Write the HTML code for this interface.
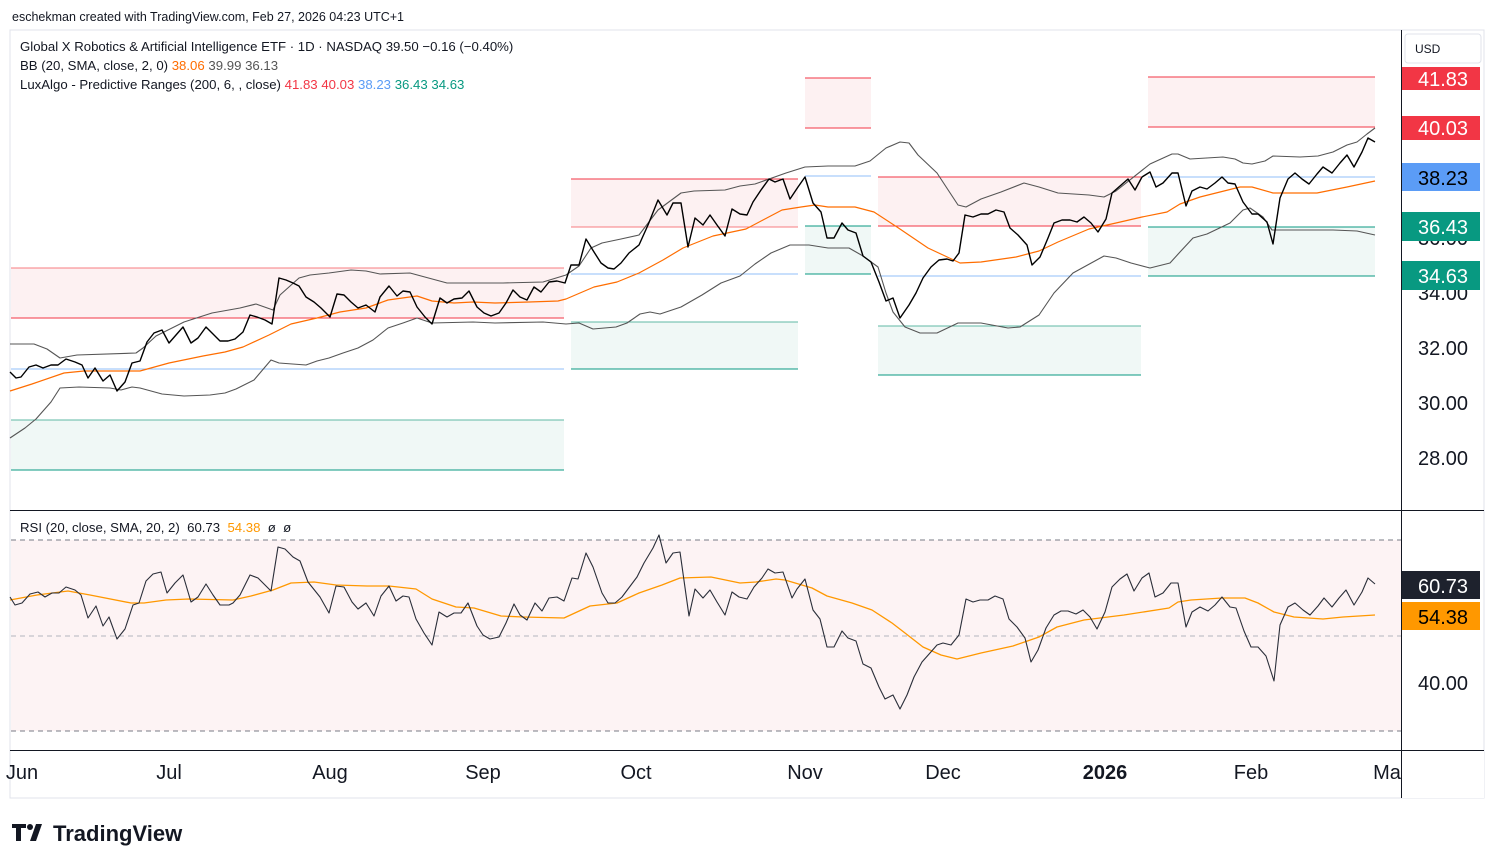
<!DOCTYPE html>
<html><head><meta charset="utf-8"><style>
body{margin:0;width:1495px;height:865px;background:#fff;overflow:hidden;font-family:"Liberation Sans","DejaVu Sans",sans-serif}
svg{position:absolute;left:0;top:0}
</style></head><body>
<svg width="1495" height="865" viewBox="0 0 1495 865">
<rect x="10" y="30" width="1474" height="768" fill="#fff" stroke="#e0e3eb"/>
<text x="12" y="21" font-size="12.5" fill="#131722">eschekman created with TradingView.com, Feb 27, 2026 04:23 UTC+1</text>
<!-- ranges -->
<g>
<rect x="11" y="268" width="553" height="50" fill="#fdf1f2"/><rect x="11" y="420" width="553" height="50" fill="#f0f8f6"/>
<line x1="11" x2="564" y1="268" y2="268" stroke="#f77c80"/><line x1="11" x2="564" y1="318" y2="318" stroke="#f23645"/>
<line x1="11" x2="564" y1="369" y2="369" stroke="#90bff9"/><line x1="11" x2="564" y1="420" y2="420" stroke="#5fb8a4"/><line x1="11" x2="564" y1="470" y2="470" stroke="#089981"/>
<rect x="571" y="179" width="227" height="48" fill="#fdf1f2"/><rect x="571" y="322" width="227" height="47" fill="#f0f8f6"/>
<line x1="571" x2="798" y1="179" y2="179" stroke="#f23645"/><line x1="571" x2="798" y1="227" y2="227" stroke="#f77c80"/>
<line x1="571" x2="798" y1="274" y2="274" stroke="#90bff9"/><line x1="571" x2="798" y1="322" y2="322" stroke="#5fb8a4"/><line x1="571" x2="798" y1="369" y2="369" stroke="#089981"/>
<rect x="805" y="78" width="66" height="50" fill="#fdf1f2"/><rect x="805" y="226" width="66" height="48" fill="#f0f8f6"/>
<line x1="805" x2="871" y1="78" y2="78" stroke="#f23645"/><line x1="805" x2="871" y1="128" y2="128" stroke="#f23645"/>
<line x1="805" x2="871" y1="176" y2="176" stroke="#90bff9"/><line x1="805" x2="871" y1="226" y2="226" stroke="#089981"/><line x1="805" x2="871" y1="274" y2="274" stroke="#089981"/>
<rect x="878" y="177" width="263" height="49" fill="#fdf1f2"/><rect x="878" y="326" width="263" height="49" fill="#f0f8f6"/>
<line x1="878" x2="1141" y1="177" y2="177" stroke="#f23645"/><line x1="878" x2="1141" y1="226" y2="226" stroke="#f23645"/>
<line x1="878" x2="1141" y1="276" y2="276" stroke="#90bff9"/><line x1="878" x2="1141" y1="326" y2="326" stroke="#5fb8a4"/><line x1="878" x2="1141" y1="375" y2="375" stroke="#089981"/>
<rect x="1148" y="77" width="227" height="50" fill="#fdf1f2"/><rect x="1148" y="227" width="227" height="49" fill="#f0f8f6"/>
<line x1="1148" x2="1375" y1="77" y2="77" stroke="#f23645"/><line x1="1148" x2="1375" y1="127" y2="127" stroke="#f23645"/>
<line x1="1148" x2="1375" y1="177" y2="177" stroke="#90bff9"/><line x1="1148" x2="1375" y1="227" y2="227" stroke="#089981"/><line x1="1148" x2="1375" y1="276" y2="276" stroke="#089981"/>
</g>
<!-- BB -->
<g fill="none" stroke-linejoin="round">
<polyline stroke="#555" stroke-width="1.1" points="10,344 34,344 47,349 60,358 77,355 136,353 143,348 156,336 184,322 212,313 240,308 256,304 273,310 280,295 299,278 310,275 329,273 351,270 366,271 380,274 410,273 447,283 503,283 543,282 566,275 579,266 591,248 602,243 621,239 639,235 658,210 681,193 694,191 725,190 740,186 755,184 786,173 805,167 828,166 855,166 870,161 886,148 900,142 909,143 918,155 937,173 958,205 966,207 981,199 1001,192 1024,183 1039,187 1058,193 1089,195 1104,197 1116,191 1150,164 1172,154 1178,154 1190,159 1223,157 1235,159 1243,163 1252,164 1265,161 1273,156 1300,157 1318,156 1333,152 1347,145 1357,142 1367,134 1375,128"/>
<polyline stroke="#555" stroke-width="1.1" points="10,438 25,428 36,419 51,402 60,388 79,387 110,388 121,390 132,387 140,388 162,394 184,396 210,395 225,393 236,389 254,380 271,360 279,363 306,365 317,361 329,358 343,353 358,348 373,340 388,328 403,323 417,318 432,323 473,322 495,323 543,322 566,324 579,323 593,329 616,327 627,323 640,314 650,312 660,314 681,307 702,295 721,283 740,276 755,264 771,253 790,245 809,245 828,248 849,248 863,256 878,267 886,293 893,312 905,327 920,333 937,333 958,323 981,323 1008,328 1020,327 1039,315 1054,293 1073,273 1104,256 1116,258 1131,263 1150,268 1170,263 1180,252 1193,238 1207,234 1230,223 1243,210 1250,208 1263,217 1272,230 1333,230 1357,231 1375,235"/>
<polyline stroke="#ff6d00" stroke-width="1.2" points="10,391 32,384 64,373 84,371 140,371 169,363 203,356 225,352 243,347 269,335 291,324 317,318 340,312 366,308 388,300 417,296 432,301 454,303 473,302 495,303 529,302 558,301 566,299 580,293 594,287 617,282 639,273 663,260 683,248 713,236 746,229 763,220 782,210 801,207 815,205 828,207 855,207 874,212 897,227 928,248 943,255 960,263 981,262 1016,257 1039,251 1058,242 1089,229 1116,223 1142,217 1167,212 1180,204 1200,197 1240,187 1252,187 1273,193 1317,193 1347,187 1375,181"/>
<polyline stroke="#000" stroke-width="1.4" points="10,372 16,378 21,377 29,367 36,365 43,368 51,365 58,365 66,359 75,362 82,365 88,378 95,368 103,381 110,375 117,391 125,382 132,363 140,361 147,342 154,333 162,330 169,343 176,335 183,327 191,343 198,338 206,327 213,334 220,341 228,341 235,339 243,332 250,315 257,317 265,320 272,324 279,278 286,280 293,283 299,286 306,297 314,302 321,308 330,317 337,294 344,295 351,302 358,308 366,305 375,312 380,297 389,286 397,296 403,291 410,292 417,307 425,317 432,324 440,298 447,303 454,299 462,298 469,291 477,307 484,313 491,316 499,313 506,303 513,290 520,297 527,300 534,287 541,292 549,282 557,281 565,283 571,265 579,265 586,239 594,252 601,263 608,268 614,269 621,263 629,253 639,245 648,225 658,200 667,215 673,203 681,203 688,247 695,218 703,225 710,215 717,225 725,236 732,209 740,214 747,215 753,202 761,190 769,179 775,182 783,179 790,199 798,187 805,177 813,203 821,212 827,238 834,238 842,223 848,230 856,233 863,256 871,262 879,282 886,301 893,298 900,318 909,305 916,293 923,278 931,267 939,260 947,259 953,261 959,253 965,215 973,217 981,214 988,214 996,210 1004,212 1010,228 1018,235 1027,245 1032,265 1040,257 1048,238 1054,223 1062,220 1070,220 1077,222 1084,217 1091,223 1098,232 1106,219 1112,193 1120,186 1128,179 1135,190 1142,177 1150,172 1156,187 1163,183 1172,173 1178,173 1186,206 1192,191 1200,187 1207,189 1215,183 1222,177 1228,183 1235,184 1243,202 1252,214 1258,214 1267,222 1273,244 1280,198 1288,179 1295,173 1302,179 1309,184 1317,174 1323,167 1332,173 1340,163 1347,155 1354,167 1362,152 1368,138 1375,142"/>
</g>
<!-- legend -->
<g font-size="13.2" fill="#131722" xml:space="preserve">
<text x="20" y="51">Global X Robotics &amp; Artificial Intelligence ETF · 1D · NASDAQ  39.50  −0.16 (−0.40%)</text>
<text x="20" y="70">BB (20, SMA, close, 2, 0)  <tspan fill="#ff6d00">38.06</tspan>  <tspan fill="#555">39.99</tspan>  <tspan fill="#555">36.13</tspan></text>
<text x="20" y="89">LuxAlgo - Predictive Ranges (200, 6, , close)  <tspan fill="#f23645">41.83</tspan>  <tspan fill="#f23645">40.03</tspan>  <tspan fill="#5b9cf6">38.23</tspan>  <tspan fill="#089981">36.43</tspan>  <tspan fill="#089981">34.63</tspan></text>
</g>
<!-- RSI pane -->
<line x1="10" x2="1484" y1="510.5" y2="510.5" stroke="#131722"/>
<rect x="11" y="540" width="1390" height="191" fill="#fdf3f4"/>
<line x1="11" x2="1401" y1="540" y2="540" stroke="#787b86" stroke-dasharray="5,4"/>
<line x1="11" x2="1401" y1="636" y2="636" stroke="#b2b5be" stroke-dasharray="5,4"/>
<line x1="11" x2="1401" y1="731" y2="731" stroke="#787b86" stroke-dasharray="5,4"/>
<text x="20" y="532" font-size="13.2" fill="#131722" xml:space="preserve">RSI (20, close, SMA, 20, 2)  60.73  <tspan fill="#ff9800">54.38</tspan>  ø  ø</text>
<g fill="none" stroke-linejoin="round">
<polyline stroke="#ff9800" stroke-width="1.3" points="10,600 37,595 68,591 90,595 131,603 144,603 166,600 189,599 233,600 251,596 273,590 291,583 314,582 336,585 367,586 389,586 416,589 432,599 456,607 474,608 501,616 523,617 564,618 590,606 617,603 639,593 662,585 680,578 711,577 740,583 756,582 776,579 785,580 812,588 827,596 852,603 872,610 892,623 905,633 923,647 941,655 957,659 981,653 1013,646 1039,637 1057,627 1084,620 1124,615 1169,608 1178,602 1191,600 1222,598 1245,598 1258,603 1274,612 1294,617 1323,619 1343,617 1375,615"/>
<polyline stroke="#2a2e39" stroke-width="1.1" points="10,597 15,605 22,603 30,594 38,592 45,597 52,593 59,593 66,587 75,590 81,595 88,618 96,606 103,626 109,617 117,639 125,629 133,605 139,603 146,581 153,574 161,572 167,593 175,583 183,575 191,602 198,597 206,584 213,595 220,605 229,605 233,603 240,595 250,575 258,578 271,591 278,547 285,549 293,557 300,561 308,582 320,597 329,613 336,586 344,587 352,602 358,609 366,603 374,616 381,596 389,586 396,601 403,596 409,597 416,619 424,633 432,645 439,612 447,617 454,613 461,613 468,603 477,626 483,635 490,639 499,637 506,623 514,604 520,615 527,620 535,603 542,611 549,598 557,597 564,601 572,578 578,579 586,553 593,567 602,593 608,603 615,603 622,597 631,585 637,577 644,563 653,548 659,535 666,563 673,553 680,552 689,616 695,589 703,598 710,590 717,602 725,615 732,592 739,597 747,599 754,587 762,578 768,569 775,573 783,572 792,598 797,589 805,579 813,610 820,619 827,647 834,647 842,631 848,638 856,641 863,664 871,668 879,687 885,699 893,695 900,709 907,695 914,677 922,662 930,653 937,645 943,643 951,645 959,635 966,599 973,602 980,600 988,600 995,596 1003,599 1009,619 1017,627 1025,638 1031,662 1038,650 1046,628 1054,615 1061,611 1068,611 1076,614 1083,610 1090,617 1097,629 1105,612 1112,587 1120,579 1127,574 1134,591 1142,578 1149,573 1155,597 1163,593 1171,583 1178,583 1186,627 1192,612 1200,607 1208,611 1215,605 1222,597 1230,607 1236,608 1244,631 1251,647 1258,647 1266,656 1274,681 1280,625 1288,607 1295,603 1303,610 1310,615 1318,606 1324,598 1332,607 1339,598 1346,590 1354,605 1362,592 1368,578 1375,584"/>
</g>
<!-- time axis -->
<line x1="10" x2="1484" y1="750.5" y2="750.5" stroke="#131722"/>
<line x1="1401.5" x2="1401.5" y1="30" y2="798" stroke="#131722"/>
<g font-size="20" fill="#131722" text-anchor="middle">
<text x="22" y="779">Jun</text><text x="169" y="779">Jul</text><text x="330" y="779">Aug</text><text x="483" y="779">Sep</text>
<text x="636" y="779">Oct</text><text x="805" y="779">Nov</text><text x="943" y="779">Dec</text><text x="1105" y="779" font-weight="bold">2026</text>
<text x="1251" y="779">Feb</text><text x="1387" y="779">Ma</text>
</g>
<rect x="1402" y="751" width="82" height="47" fill="#fff"/>
<!-- price axis -->
<g font-size="20" fill="#131722" text-anchor="middle">
<text x="1443" y="245">36.00</text><text x="1443" y="300">34.00</text>
<text x="1443" y="355">32.00</text><text x="1443" y="410">30.00</text><text x="1443" y="465">28.00</text>
<text x="1443" y="690">40.00</text>
</g>
<rect x="1405" y="34" width="76" height="29" rx="3" fill="#fff" stroke="#e0e3eb"/>
<text x="1415" y="53" font-size="12" fill="#131722">USD</text>
<g font-size="20" text-anchor="middle">
<rect x="1402" y="67" width="78" height="23" fill="#f23645"/><text x="1443" y="86" fill="#fff">41.83</text>
<rect x="1402" y="116" width="78" height="24" fill="#f23645"/><text x="1443" y="135" fill="#fff">40.03</text>
<rect x="1402" y="163" width="78" height="28" fill="#5b9cf6"/><text x="1443" y="185" fill="#000">38.23</text>
<rect x="1402" y="212" width="78" height="29" fill="#089981"/><text x="1443" y="234" fill="#fff">36.43</text>
<rect x="1402" y="261" width="78" height="29" fill="#089981"/><text x="1443" y="283" fill="#fff">34.63</text>
<rect x="1402" y="571" width="78" height="28" fill="#1e222d"/><text x="1443" y="593" fill="#fff">60.73</text>
<rect x="1402" y="602" width="78" height="28" fill="#ff9800"/><text x="1443" y="624" fill="#000">54.38</text>
</g>
<!-- logo -->
<g fill="#131722">
<path d="M12 824h14v4h-5v13h-5v-13h-4z"/><circle cx="30" cy="827" r="3"/><path d="M36 824h6l-6 17h-6z"/>
<text x="53" y="841" font-size="22" font-weight="bold">TradingView</text>
</g>
</svg>
</body></html>
